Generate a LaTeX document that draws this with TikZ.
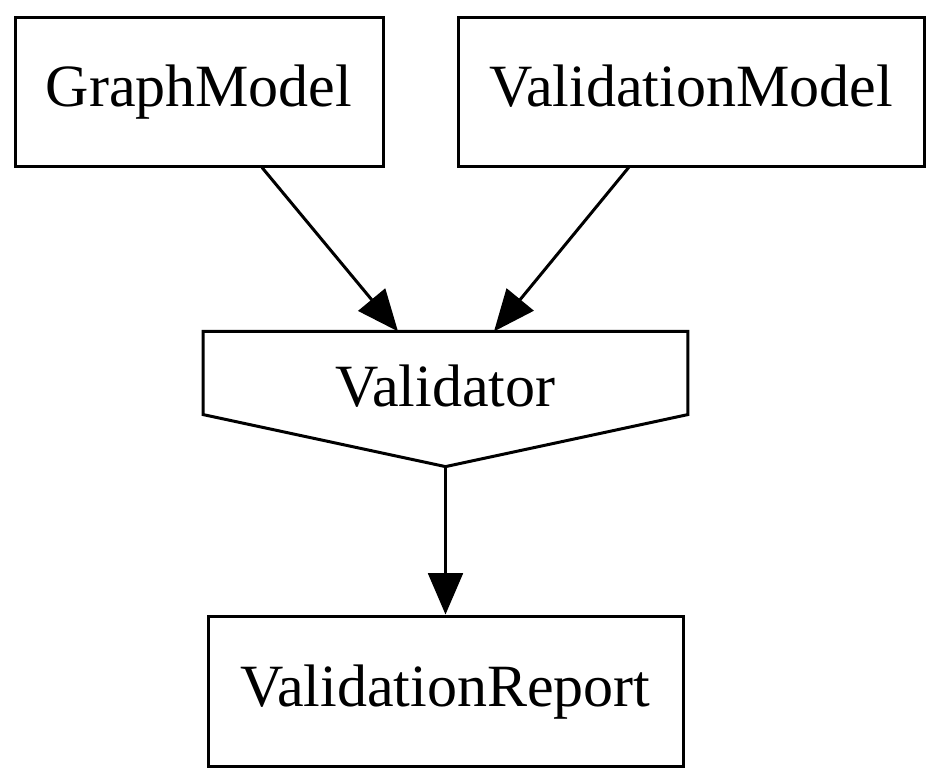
\documentclass[tikz,border=0pt]{standalone}
\usepackage{fontspec}
\setmainfont{Liberation Serif}
\usetikzlibrary{arrows.meta,calc}
\tikzset{
    boite/.style={draw, line width=2.25pt, inner sep=0pt, minimum height=111.75pt,
      text height=32pt, text depth=8.8pt, font=\fontsize{45}{52}\selectfont},
    fleche/.style={line width=2.25pt, -{Triangle[length=31pt,width=26pt]}},
  }
\begin{document}
\begin{tikzpicture}[x=0.75pt,y=-0.75pt]
	%cadre
	\useasboundingbox (0,0) rectangle (942,783);

	%modeles en haut
	\node[boite, minimum width=276pt] (graph) at (199,91.5) {GraphModel};
	\node[boite, minimum width=349.5pt] (valmodel) at (691,91.5) {ValidationModel};

	%validateur (maison inversee)
	\node[font=\fontsize{45}{52}\selectfont, inner sep=0pt, minimum width=363pt,
	      minimum height=62pt, text height=50pt, text depth=0pt] (validator) at (445.5,373) {Validator};
	\coordinate (pointe) at ($(validator.south)+(0,52)$);
	\draw[line width=2.25pt, line join=miter] (validator.south west) -- (validator.north west)
	     -- (validator.north east) -- (validator.south east) -- (pointe) -- cycle;

	%rapport
	\node[boite, minimum width=356.25pt, minimum height=112.5pt] (report) at (445.5,691) {ValidationReport};

	%fleches
	\coordinate (v1) at ($(validator.north)+(-47.5,0)$);
	\coordinate (v2) at ($(validator.north)+(48.5,0)$);
	\draw[fleche] (graph) -- (v1);
	\draw[fleche] (valmodel) -- (v2);
	\draw[fleche] (pointe) -- (report);
\end{tikzpicture}
\end{document}
